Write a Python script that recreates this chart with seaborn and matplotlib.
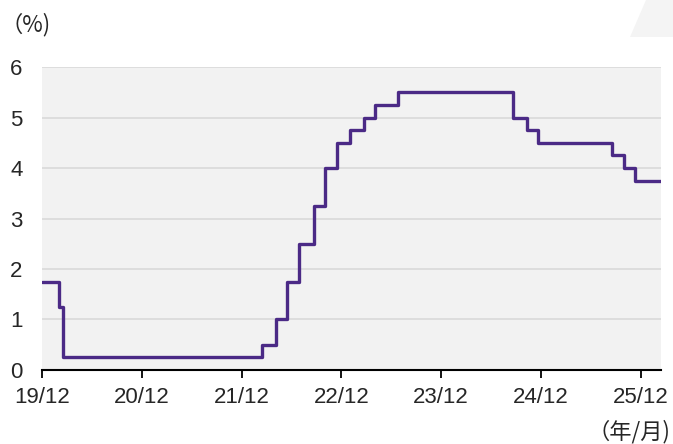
import pandas as pd
import matplotlib.pyplot as plt
from matplotlib.patches import Polygon
import seaborn as sns

# policy rate steps (date of change, level in %)
dates = ["2019-12-31", "2020-03-03", "2020-03-16", "2022-03-17", "2022-05-05",
         "2022-06-16", "2022-07-28", "2022-09-22", "2022-11-03", "2022-12-15",
         "2023-02-02", "2023-03-23", "2023-05-04", "2023-07-27", "2024-09-19",
         "2024-11-08", "2024-12-19", "2025-09-18", "2025-10-30", "2025-12-11",
         "2026-03-15"]
rates = [1.75, 1.25, 0.25, 0.50, 1.00,
         1.75, 2.50, 3.25, 4.00, 4.50,
         4.75, 5.00, 5.25, 5.50, 5.00,
         4.75, 4.50, 4.25, 4.00, 3.75,
         3.75]
# ticks sit at the end of each December
tick_dates = ["2019-12-31", "2020-12-31", "2021-12-31", "2022-12-31",
              "2023-12-31", "2024-12-31", "2025-12-31"]
tick_labels = ["19/12", "20/12", "21/12", "22/12", "23/12", "24/12", "25/12"]

df = pd.DataFrame({"date": pd.to_datetime(dates), "rate": rates})

sns.set_style("white", {"axes.facecolor": "#f2f2f2"})
plt.rcParams["font.family"] = ["Liberation Sans", "Noto Sans CJK JP", "DejaVu Sans"]

fig = plt.figure(figsize=(6.73, 4.44), dpi=100)
ax = fig.add_axes([0.0624, 0.1667, 0.9196, 0.6823])

# light decoration in the top-right corner
fig.patches.append(Polygon([[630 / 673, 1 - 37 / 444], [646 / 673, 1.0], [1.0, 1.0], [1.0, 1 - 37 / 444]],
                           closed=True, transform=fig.transFigure, facecolor="#f4f4f4",
                           edgecolor="none", zorder=0))

for y in range(1, 7):
    ax.axhline(y, color="#d9d9d9", lw=1.2, zorder=1)

sns.lineplot(data=df, x="date", y="rate", drawstyle="steps-post",
             color="#4b2a86", lw=2.4, ax=ax, zorder=3)

ax.set_xlim(pd.Timestamp("2019-12-31"), pd.Timestamp("2026-03-15"))
ax.set_ylim(0, 6)
ax.set_yticks(range(0, 7))
ax.set_xticks(pd.to_datetime(tick_dates))
ax.set_xticklabels(tick_labels)
ax.set_xlabel("")
ax.set_ylabel("")

for s in ["top", "right", "left"]:
    ax.spines[s].set_visible(False)
ax.spines["bottom"].set_color("black")
ax.spines["bottom"].set_linewidth(1.5)
ax.spines["bottom"].set_zorder(4)

ax.tick_params(axis="x", direction="out", length=6, width=1.3, color="black",
               labelsize=16, pad=6, bottom=True)
ax.tick_params(axis="y", length=0, labelsize=16, pad=14)

fig.text(1 / 673, 1 - 25 / 444, "（%)", fontsize=16, ha="left", va="center",
         family=["Noto Sans CJK JP", "DejaVu Sans"])
fig.text(670 / 673, 1 - 432 / 444, "（年/月)", fontsize=16, ha="right", va="center",
         family=["Noto Sans CJK JP", "DejaVu Sans"])

plt.savefig("out.png", dpi=100)
